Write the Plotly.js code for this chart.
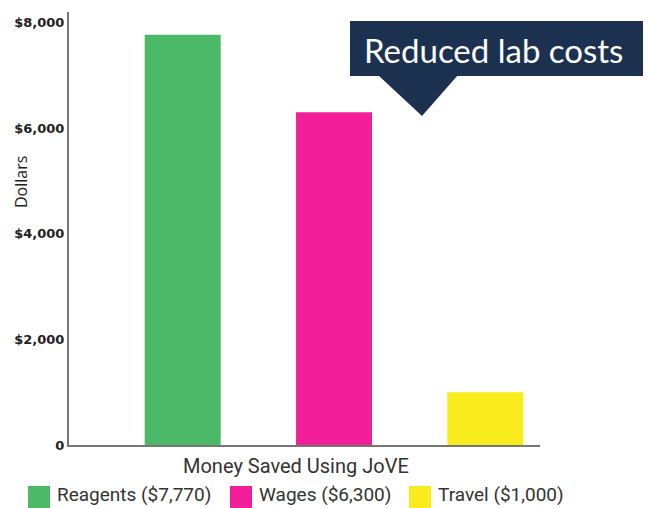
<!DOCTYPE html>
<html>
<head>
<meta charset="utf-8">
<script src="https://cdn.plot.ly/plotly-3.0.1.min.js"></script>
<style>html,body{margin:0;padding:0;background:#fff;}#chart{width:648px;height:508px;}</style>
</head>
<body>
<div id="chart"></div>
<script>
// ---- data ----
const category = "Money Saved Using JoVE";
const seriesNames = ["Reagents", "Wages", "Travel"];
const seriesValues = [7770, 6300, 1000];
const seriesLabels = ["$7,770", "$6,300", "$1,000"];
const seriesColors = ["#4cb968", "#f21e9a", "#f9ec1d"];
const yTickVals = [0, 2000, 4000, 6000, 8000];
const yTickText = ["0", "$2,000", "$4,000", "$6,000", "$8,000"];
const yTitle = "Dollars";
const calloutText = "Reduced lab costs";

// ---- layout helpers (pixel -> paper) ----
const W = 648, H = 508;
const L = 69, R = 540, T = 12, B = 445;
const px = x => (x - L) / (R - L);
const py = y => (B - y) / (B - T);

const traces = seriesNames.map((n, i) => ({
  type: "bar",
  name: n + " (" + seriesLabels[i] + ")",
  x: [category],
  y: [seriesValues[i]],
  marker: {color: seriesColors[i]},
  hoverinfo: "name+y",
  showlegend: false
}));

const shapes = [];
const annotations = [];

// callout box
shapes.push({type: "rect", xref: "paper", yref: "paper",
  x0: px(350), x1: px(643), y0: py(76), y1: py(21),
  fillcolor: "#1c3150", line: {width: 0}, layer: "above"});
shapes.push({type: "path", xref: "paper", yref: "paper",
  path: `M ${px(378)} ${py(75)} L ${px(458)} ${py(75)} L ${px(422)} ${py(116)} Z`,
  fillcolor: "#1c3150", line: {width: 0}, layer: "above"});
annotations.push({xref: "paper", yref: "paper", x: px(493), y: py(50),
  text: calloutText, showarrow: false, xanchor: "center", yanchor: "middle",
  font: {family: "Lato, sans-serif", size: 33, color: "#ffffff"}});

// category label
annotations.push({xref: "paper", yref: "paper", x: px(296), y: py(466),
  text: category, showarrow: false, xanchor: "center", yanchor: "middle",
  font: {family: "Roboto, sans-serif", size: 20, color: "#333333"}});

// y title
annotations.push({xref: "paper", yref: "paper", x: px(21), y: py(182),
  text: yTitle, showarrow: false, textangle: -90, xanchor: "center", yanchor: "middle",
  font: {family: "Open Sans, sans-serif", size: 16, color: "#222222"}});

// legend (manual)
const swX = [28, 230, 409];
seriesNames.forEach((n, i) => {
  shapes.push({type: "rect", xref: "paper", yref: "paper",
    x0: px(swX[i]), x1: px(swX[i] + 22), y0: py(508), y1: py(486),
    fillcolor: seriesColors[i], line: {width: 0}});
  annotations.push({xref: "paper", yref: "paper", x: px(swX[i] + 28), y: py(495),
    text: n + " (" + seriesLabels[i] + ")", showarrow: false, xanchor: "left", yanchor: "middle",
    borderpad: 0,
    font: {family: "Roboto, sans-serif", size: 19, color: "#333333"}});
});

const layout = {
  width: W, height: H,
  margin: {l: L, r: W - R, t: T, b: H - B, pad: 0},
  paper_bgcolor: "#ffffff", plot_bgcolor: "#ffffff",
  barmode: "group", bargap: 0.1, bargroupgap: 0.498,
  showlegend: false,
  xaxis: {type: "category", range: [-0.5254, 0.4084], showticklabels: false,
    showline: true, linecolor: "#777777", linewidth: 2, showgrid: false, zeroline: false, ticks: "", fixedrange: true},
  yaxis: {range: [0, 8200], tickvals: yTickVals, ticktext: yTickText,
    showline: true, linecolor: "#777777", linewidth: 2, showgrid: false, zeroline: false, ticks: "",
    tickfont: {family: "DejaVu Sans, sans-serif", size: 13, color: "#222222", weight: "bold"}, fixedrange: true},
  shapes: shapes,
  annotations: annotations
};

Plotly.newPlot("chart", traces, layout, {displayModeBar: false, staticPlot: true});
</script>
</body>
</html>
